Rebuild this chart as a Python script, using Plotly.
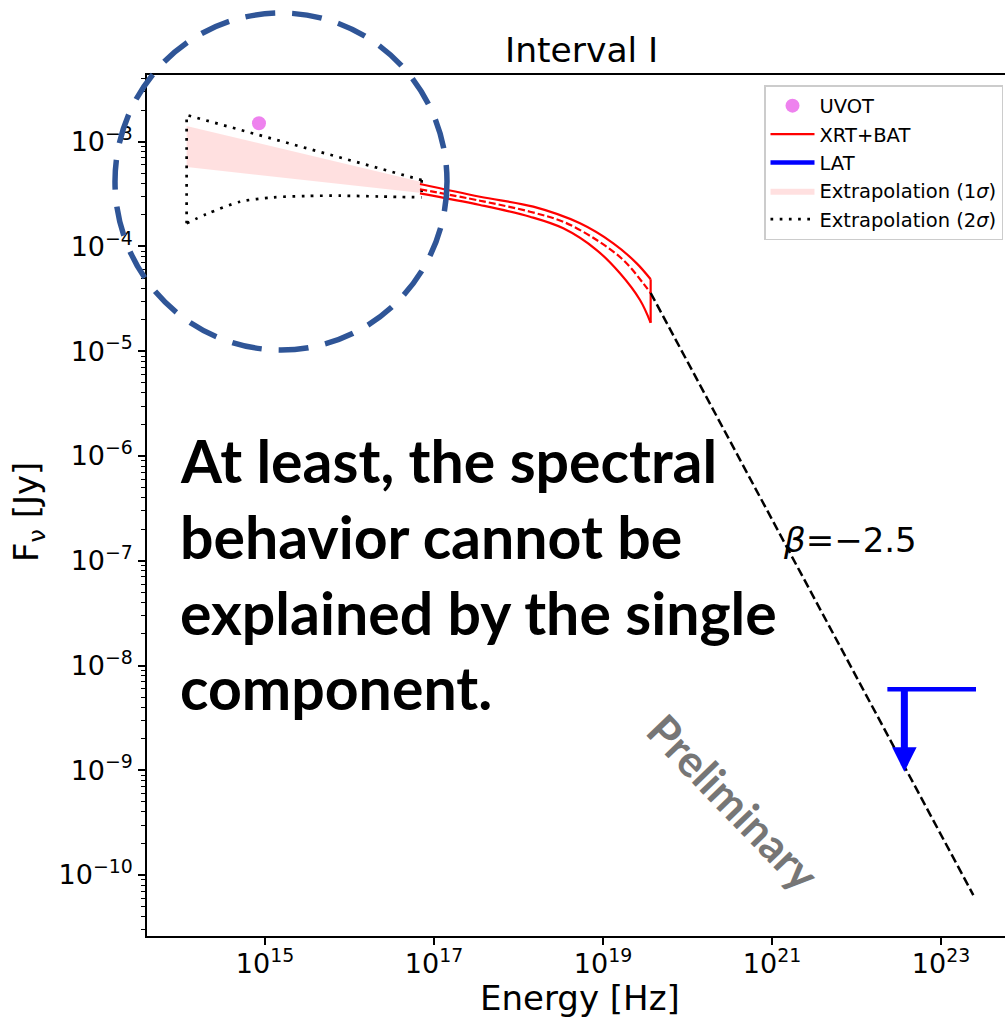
import plotly.graph_objects as go

# ---------------- data (log10 of nu [Hz], log10 of F_nu [Jy]) ----------------
uvot_log_nu = [14.929]
uvot_log_f = [-2.824]

# 2-sigma extrapolation envelope (dotted)
ext2_upper_log_nu = [14.073, 16.854]
ext2_upper_log_f = [-2.745, -3.366]
ext2_lower_log_nu = [14.073, 14.31, 14.704, 15.095, 15.493, 15.888, 16.361, 16.854]
ext2_lower_log_f = [-3.779, -3.690, -3.573, -3.531, -3.518, -3.515, -3.523, -3.531]

# 1-sigma extrapolation band (shaded)
ext1_log_nu = [14.073, 16.854]
ext1_upper_log_f = [-2.850, -3.385]
ext1_lower_log_f = [-3.241, -3.490]

# XRT+BAT butterfly
xrt_upper_log_nu = [16.834, 17.544, 18.175, 18.728, 19.122, 19.399, 19.564]
xrt_upper_log_f = [-3.404, -3.525, -3.620, -3.779, -3.970, -4.161, -4.313]
xrt_lower_log_nu = [16.834, 17.544, 18.136, 18.530, 18.925, 19.201, 19.438, 19.564]
xrt_lower_log_f = [-3.493, -3.604, -3.716, -3.827, -4.034, -4.256, -4.511, -4.728]
xrt_mid_log_nu = [16.834, 17.544, 18.136, 18.530, 18.925, 19.240, 19.477, 19.564]
xrt_mid_log_f = [-3.454, -3.563, -3.668, -3.764, -3.938, -4.129, -4.352, -4.444]

# beta = -2.5 extrapolation
beta_log_nu = [19.564, 23.382]
beta_log_f = [-4.444, -10.191]

# LAT upper limit
lat_log_nu = [22.365, 23.414]
lat_log_f = -8.227
lat_arrow_log_nu = 22.566
lat_arrow_tip_log_f = -9.014

x_tick_exp = [15, 17, 19, 21, 23]
y_tick_exp = [-3, -4, -5, -6, -7, -8, -9, -10]

# ---------------- helpers ----------------
def lin(v):
    return [10 ** a for a in v]

W, H = 1005, 1019
ML, MR, MT, MB = 147, 0, 75, 83
PW, PH = W - ML - MR, H - MT - MB

def px(xp):
    return (xp - ML) / PW

def py(yp):
    return (H - MB - yp) / PH

DJ = "DejaVu Sans"
DOT = dict(color="black", width=2.7, dash="2.7px,6.5px")
fig = go.Figure()

# 1-sigma band
fig.add_trace(go.Scatter(
    x=lin(ext1_log_nu + ext1_log_nu[::-1]),
    y=lin(ext1_upper_log_f + ext1_lower_log_f[::-1]),
    fill="toself", fillcolor="rgba(255,0,0,0.12)", line=dict(width=0),
    mode="lines", name="Extrapolation (1<i>σ</i>)", legendrank=4,
    hoverinfo="skip"))

# 2-sigma envelope: straight upper edge + left edge, curved lower edge, right edge
fig.add_trace(go.Scatter(
    x=lin(ext2_upper_log_nu[::-1] + [ext2_lower_log_nu[0]]),
    y=lin(ext2_upper_log_f[::-1] + [ext2_lower_log_f[0]]),
    mode="lines", line=DOT,
    name="Extrapolation (2<i>σ</i>)", legendrank=5, legendgroup="e2"))
fig.add_trace(go.Scatter(
    x=lin(ext2_lower_log_nu), y=lin(ext2_lower_log_f),
    mode="lines", line=dict(DOT, shape="spline", smoothing=0.8),
    showlegend=False, legendgroup="e2"))
fig.add_trace(go.Scatter(
    x=lin([ext2_upper_log_nu[-1], ext2_lower_log_nu[-1]]),
    y=lin([ext2_upper_log_f[-1], ext2_lower_log_f[-1]]),
    mode="lines", line=DOT, showlegend=False, legendgroup="e2"))

# XRT+BAT butterfly
fig.add_trace(go.Scatter(
    x=lin(xrt_upper_log_nu), y=lin(xrt_upper_log_f),
    mode="lines", line=dict(color="#ff0000", width=2.2, shape="spline"),
    name="XRT+BAT", legendrank=2, legendgroup="xrt"))
fig.add_trace(go.Scatter(
    x=lin(xrt_lower_log_nu), y=lin(xrt_lower_log_f),
    mode="lines", line=dict(color="#ff0000", width=2.2, shape="spline"),
    showlegend=False, legendgroup="xrt"))
fig.add_trace(go.Scatter(
    x=lin([xrt_upper_log_nu[-1], xrt_lower_log_nu[-1]]),
    y=lin([xrt_upper_log_f[-1], xrt_lower_log_f[-1]]),
    mode="lines", line=dict(color="#ff0000", width=2.2),
    showlegend=False, legendgroup="xrt"))
fig.add_trace(go.Scatter(
    x=lin(xrt_mid_log_nu), y=lin(xrt_mid_log_f),
    mode="lines", line=dict(color="#ff0000", width=2.2, dash="7px,3px",
                            shape="spline"),
    showlegend=False))

# beta extrapolation
fig.add_trace(go.Scatter(
    x=lin(beta_log_nu), y=lin(beta_log_f),
    mode="lines", line=dict(color="black", width=2.5, dash="9px,4px"),
    showlegend=False))

# LAT upper limit
fig.add_trace(go.Scatter(
    x=lin(lat_log_nu), y=lin([lat_log_f, lat_log_f]),
    mode="lines", line=dict(color="#0000ff", width=4.5),
    name="LAT", legendrank=3))
fig.add_annotation(
    x=lat_arrow_log_nu, y=lat_arrow_tip_log_f,
    ax=lat_arrow_log_nu, ay=lat_log_f, xref="x", yref="y", axref="x", ayref="y",
    showarrow=True, arrowhead=2, arrowwidth=7, arrowsize=0.7,
    arrowcolor="#0000ff", text="")

# UVOT
fig.add_trace(go.Scatter(
    x=lin(uvot_log_nu), y=lin(uvot_log_f), mode="markers",
    marker=dict(color="violet", size=14), name="UVOT", legendrank=1))

# ---------------- layout ----------------
minor_y = [k * 10.0 ** e for e in range(-11, -2) for k in range(2, 10)]

fig.update_layout(
    width=W, height=H, autosize=False,
    margin=dict(l=ML, r=MR, t=MT, b=MB, pad=0),
    plot_bgcolor="white", paper_bgcolor="white",
    font=dict(family=DJ, color="black"),
    xaxis=dict(
        type="log", range=[13.604, 23.757],
        tickvals=[10.0 ** e for e in x_tick_exp],
        ticktext=[f"10<sup>{e}</sup>" for e in x_tick_exp],
        ticks="outside", ticklen=7, tickwidth=1.5, tickcolor="black",
        ticklabelstandoff=-4,
        showline=True, linecolor="black", linewidth=1.5, mirror=True,
        showgrid=False, zeroline=False, tickfont=dict(family=DJ, size=27)),
    yaxis=dict(
        type="log", range=[-10.582, -2.363],
        tickvals=[10.0 ** e for e in y_tick_exp],
        ticktext=[f"10<sup>\u2212{-e}</sup>" for e in y_tick_exp],
        ticks="outside", ticklen=7, tickwidth=1.5, tickcolor="black",
        minor=dict(tickvals=minor_y, ticks="outside", ticklen=4,
                   tickwidth=1.2, tickcolor="black", showgrid=False),
        showline=True, linecolor="black", linewidth=1.5, mirror=False,
        showgrid=False, zeroline=False, tickfont=dict(family=DJ, size=27)),
    legend=dict(
        x=px(1003), y=py(85), xanchor="right", yanchor="top",
        bgcolor="white", bordercolor="#cccccc", borderwidth=1.5,
        font=dict(family=DJ, size=19.5), itemwidth=44,
        traceorder="normal", tracegroupgap=0),
    showlegend=True,
)

# dashed circle overlay
fig.add_shape(type="circle", xref="paper", yref="paper",
              x0=px(115), x1=px(447), y0=py(350), y1=py(13),
              line=dict(color="#2F5597", width=5.5, dash="30px,17px"),
              layer="above")

def label(text, x, y, size, angle=0, family=DJ, color="black", xanchor="center"):
    fig.add_annotation(text=text, xref="paper", yref="paper",
                       x=px(x), y=py(y), xanchor=xanchor, yanchor="middle",
                       showarrow=False, textangle=angle,
                       font=dict(family=family, size=size, color=color))

# titles
label("Interval I", 581, 50, 34.5)
label("Energy [Hz]", 580, 998, 34)
label("F<sub>ν</sub> [Jy]", 28, 512, 34, angle=-90)
label("<i>β</i>=\u22122.5", 850, 540, 34)

# big overlay text
lines = ["At least, the spectral", "behavior cannot be",
         "explained by the single", "component."]
line_y = [460, 536, 612, 688]
for t, yy in zip(lines, line_y):
    label(f"<b>{t}</b>", 178, yy, 59, family="Lato", xanchor="left")

label("<b>Preliminary</b>", 734, 802, 44, angle=46, family="Lato",
      color="#767676")

fig.write_html("out.html")
